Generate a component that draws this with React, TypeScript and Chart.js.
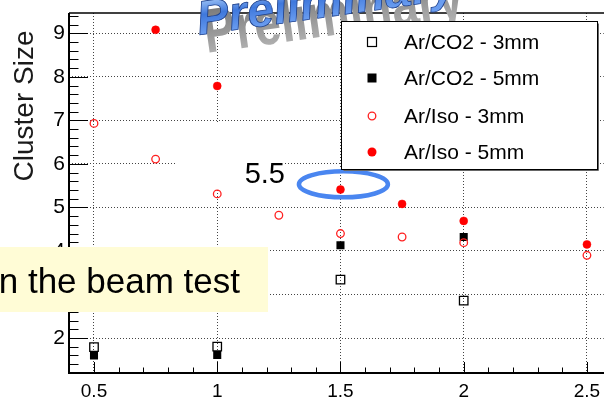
import { useEffect, useRef } from "react";
import { Chart, registerables } from "chart.js";

Chart.register(...registerables);

// ---- data ----
const xTickValues = [0.5, 1, 1.5, 2, 2.5];
const yTickValues = [2, 3, 4, 5, 6, 7, 8, 9];

const seriesNames = ["Ar/CO2 - 3mm", "Ar/CO2 - 5mm", "Ar/Iso - 3mm", "Ar/Iso - 5mm"];

const arCO2_3mm_x = [0.5, 1, 1.5, 2];
const arCO2_3mm_y = [1.79, 1.8, 3.34, 2.86];

const arCO2_5mm_x = [0.5, 1, 1.5, 2];
const arCO2_5mm_y = [1.6, 1.61, 4.13, 4.32];

const arIso_3mm_x = [0.5, 0.75, 1, 1.25, 1.5, 1.75, 2, 2.5];
const arIso_3mm_y = [6.93, 6.11, 5.31, 4.82, 4.4, 4.32, 4.19, 3.9];

const arIso_5mm_x = [0.75, 1, 1.5, 1.75, 2, 2.5];
const arIso_5mm_y = [9.08, 7.79, 5.41, 5.08, 4.69, 4.15];

const X_MIN = 0.3986;
const X_MAX = 2.568;
const Y_MIN = 1.196;
const Y_MAX = 9.466;

const FONT = '"Liberation Sans", Arial, Helvetica, sans-serif';

const toPoints = (xs: number[], ys: number[]) => xs.map((x, i) => ({ x, y: ys[i] }));

const overlayPlugin = {
  id: "overlay",
  beforeDatasetsDraw(chart: any) {
    const { ctx, chartArea: a, scales } = chart;
    const xs = scales.x;
    const ys = scales.y;
    ctx.save();
    ctx.strokeStyle = "#000";
    ctx.lineWidth = 1;
    for (let k = 6; k <= 47; k++) {
      const v = k / 5;
      const py = Math.round(ys.getPixelForValue(v)) + 0.5;
      const major = k % 5 === 0;
      const len = major ? 19 : 9.5;
      ctx.beginPath();
      ctx.moveTo(a.left, py);
      ctx.lineTo(a.left + len, py);
      ctx.stroke();
    }
    for (let k = 4; k <= 25; k++) {
      const v = k / 10;
      const px = Math.round(xs.getPixelForValue(v)) + 0.5;
      const major = k % 5 === 0;
      const len = major ? 11 : 5.5;
      ctx.beginPath();
      ctx.moveTo(px, a.bottom);
      ctx.lineTo(px, a.bottom - len);
      ctx.stroke();
    }
    ctx.lineWidth = 2;
    ctx.beginPath();
    ctx.moveTo(a.left, a.top);
    ctx.lineTo(a.left, a.bottom);
    ctx.lineTo(chart.width, a.bottom);
    ctx.stroke();
    ctx.lineWidth = 1.5;
    ctx.beginPath();
    ctx.moveTo(a.left, a.top);
    ctx.lineTo(chart.width, a.top);
    ctx.stroke();

    ctx.save();
    ctx.translate(33, 106);
    ctx.rotate(-Math.PI / 2);
    ctx.fillStyle = "#1a1a1a";
    ctx.font = `28px ${FONT}`;
    ctx.textAlign = "center";
    ctx.textBaseline = "alphabetic";
    ctx.fillText("Cluster Size", 0, 0);
    ctx.restore();
    ctx.restore();
  },
  afterDraw(chart: any) {
    const { ctx, scales } = chart;
    const xs = scales.x;
    const ys = scales.y;
    ctx.save();

    // watermark "Preliminary"
    ctx.save();
    ctx.translate(199, 35);
    ctx.rotate(-0.14);
    ctx.save();
    ctx.translate(5, 19);
    ctx.scale(1, 1.3);
    const gg = ctx.createLinearGradient(0, -36, 0, 4);
    gg.addColorStop(0, "#787878");
    gg.addColorStop(1, "#b4b4b4");
    ctx.fillStyle = gg;
    ctx.font = `bold 48px ${FONT}`;
    ctx.fillText("Preliminary", 0, 0);
    ctx.restore();
    ctx.font = `italic bold 48px ${FONT}`;
    ctx.textBaseline = "alphabetic";
    const g = ctx.createLinearGradient(0, -36, 0, 0);
    g.addColorStop(0, "#a4c8f8");
    g.addColorStop(0.45, "#3f78dc");
    g.addColorStop(1, "#6a9df0");
    ctx.fillStyle = g;
    ctx.fillText("Preliminary", 0, 0);
    ctx.strokeStyle = "#1d3f8a";
    ctx.lineWidth = 0.8;
    ctx.strokeText("Preliminary", 0, 0);
    ctx.restore();

    // white text box for "5.5"
    ctx.fillStyle = "#fff";
    ctx.fillRect(175, 123, 110, 66);
    ctx.fillStyle = "#000";
    ctx.font = `29px ${FONT}`;
    ctx.textAlign = "right";
    ctx.textBaseline = "alphabetic";
    ctx.fillText("5.5", 285, 183);

    // blue ellipse around the 1.5 point
    const cx = xs.getPixelForValue(1.512);
    const cy = ys.getPixelForValue(5.53);
    ctx.beginPath();
    ctx.ellipse(cx, cy, 44.5, 13, 0, 0, Math.PI * 2);
    ctx.strokeStyle = "#4a86f0";
    ctx.lineWidth = 4.5;
    ctx.stroke();

    // legend
    const lx = 341.5, ly = 21.5, lw = 256, lh = 148;
    ctx.fillStyle = "#fff";
    ctx.fillRect(lx, ly, lw, lh);
    ctx.strokeStyle = "#000";
    ctx.lineWidth = 1;
    ctx.strokeRect(lx, ly, lw, lh);
    ctx.strokeStyle = "#666";
    ctx.beginPath();
    ctx.moveTo(lx + lw + 1, ly + 2);
    ctx.lineTo(lx + lw + 1, ly + lh + 1);
    ctx.lineTo(lx + 2, ly + lh + 1);
    ctx.stroke();

    const rowsY = [42, 78, 116, 152];
    const mx = 372;
    ctx.font = `21px ${FONT}`;
    ctx.textAlign = "left";
    ctx.textBaseline = "alphabetic";
    rowsY.forEach((ry, i) => {
      ctx.save();
      if (i === 0) {
        ctx.strokeStyle = "#000";
        ctx.lineWidth = 1.2;
        ctx.strokeRect(mx - 4.5, ry - 4.5, 9, 9);
      } else if (i === 1) {
        ctx.fillStyle = "#000";
        ctx.fillRect(mx - 4.5, ry - 4.5, 9, 9);
      } else if (i === 2) {
        ctx.strokeStyle = "#ff2020";
        ctx.lineWidth = 1.3;
        ctx.beginPath();
        ctx.arc(mx, ry, 3.8, 0, Math.PI * 2);
        ctx.stroke();
      } else {
        ctx.fillStyle = "#ff0000";
        ctx.beginPath();
        ctx.arc(mx, ry, 4.5, 0, Math.PI * 2);
        ctx.fill();
      }
      ctx.restore();
      ctx.fillStyle = "#000";
      ctx.fillText(seriesNames[i], 404, ry + 7);
    });

    // yellow text box
    ctx.fillStyle = "#fffcd6";
    ctx.fillRect(-10, 247, 278, 65);
    ctx.fillStyle = "#000";
    ctx.font = `35px ${FONT}`;
    ctx.textAlign = "right";
    ctx.fillText("n the beam test", 240, 293);

    ctx.restore();
  },
};

export default function App() {
  const ref = useRef<HTMLCanvasElement | null>(null);
  useEffect(() => {
    if (!ref.current) return;
    const chart = new Chart(ref.current, {
      type: "scatter",
      data: {
        datasets: [
          {
            label: seriesNames[0],
            data: toPoints(arCO2_3mm_x, arCO2_3mm_y),
            pointStyle: "rect",
            pointRadius: 6,
            backgroundColor: "rgba(0,0,0,0)",
            borderColor: "#000",
            borderWidth: 1.3,
            order: 3,
          },
          {
            label: seriesNames[1],
            data: toPoints(arCO2_5mm_x, arCO2_5mm_y),
            pointStyle: "rect",
            pointRadius: 5.7,
            backgroundColor: "#000",
            borderColor: "#000",
            borderWidth: 0,
            order: 2,
          },
          {
            label: seriesNames[2],
            data: toPoints(arIso_3mm_x, arIso_3mm_y),
            pointStyle: "circle",
            pointRadius: 3.8,
            backgroundColor: "rgba(0,0,0,0)",
            borderColor: "#ff2020",
            borderWidth: 1.3,
            order: 1,
          },
          {
            label: seriesNames[3],
            data: toPoints(arIso_5mm_x, arIso_5mm_y),
            pointStyle: "circle",
            pointRadius: 4,
            backgroundColor: "#ff0000",
            borderColor: "#ff0000",
            borderWidth: 0.5,
            order: 0,
          },
        ],
      },
      options: {
        animation: false,
        responsive: false,
        devicePixelRatio: 1,
        layout: { padding: { top: 13, left: 0, right: 0, bottom: 0 } },
        plugins: { legend: { display: false }, tooltip: { enabled: false } },
        scales: {
          x: {
            type: "linear",
            min: X_MIN,
            max: X_MAX,
            afterBuildTicks: (s: any) => {
              s.ticks = xTickValues.map((value) => ({ value }));
            },
            afterFit: (s: any) => {
              s.height = 25;
              s.paddingLeft = 0;
              s.paddingRight = 0;
            },
            ticks: {
              color: "#000",
              font: { size: 19, family: FONT },
              padding: 7,
              maxRotation: 0,
              autoSkip: false,
              callback: (v: any) => String(v),
            },
            grid: { color: "#444", lineWidth: 1, drawTicks: false },
            border: { display: false, dash: [1, 2] },
          },
          y: {
            type: "linear",
            min: Y_MIN,
            max: Y_MAX,
            afterBuildTicks: (s: any) => {
              s.ticks = yTickValues.map((value) => ({ value }));
            },
            afterFit: (s: any) => {
              s.width = 69;
              s.paddingTop = 0;
              s.paddingBottom = 0;
            },
            ticks: {
              color: "#000",
              font: { size: 21, family: FONT },
              padding: 4,
              autoSkip: false,
              callback: (v: any) => String(v),
            },
            grid: { color: "#444", lineWidth: 1, drawTicks: false },
            border: { display: false, dash: [1, 2] },
          },
        },
      },
      plugins: [overlayPlugin],
    });
    return () => chart.destroy();
  }, []);
  return (
    <div style={{ position: "absolute", left: 0, top: 0, width: 604, height: 398, background: "#fff", overflow: "hidden" }}>
      <canvas ref={ref} width={611} height={398} style={{ display: "block" }} />
    </div>
  );
}
